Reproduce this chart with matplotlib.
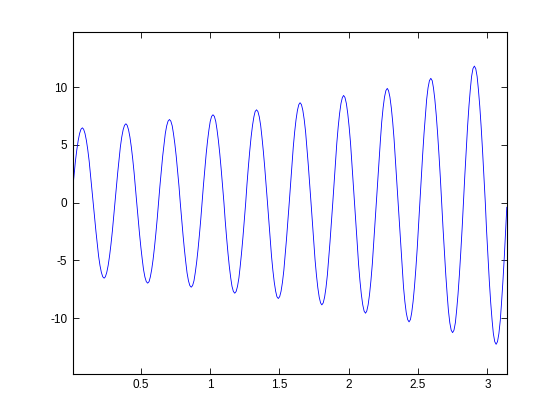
"""Growing sinusoid, redrawn in the look of a default MATLAB figure."""

import matplotlib
matplotlib.use("Agg")
import matplotlib.pyplot as plt

# curve samples, one half-wave per line pair
X = [
    0.010, 0.020, 0.029, 0.039, 0.049, 0.059, 0.069, 0.079,
    0.088, 0.098, 0.108, 0.118, 0.128, 0.137, 0.147, 0.157,
    0.167, 0.177, 0.187, 0.196, 0.206, 0.216, 0.226, 0.236,
    0.245, 0.255, 0.265, 0.275, 0.285, 0.295, 0.304, 0.314,
    0.324, 0.334, 0.344, 0.353, 0.363, 0.373, 0.383, 0.393,
    0.402, 0.412, 0.422, 0.432, 0.442, 0.452, 0.461, 0.471,
    0.481, 0.491, 0.501, 0.511, 0.520, 0.530, 0.540, 0.550,
    0.560, 0.569, 0.579, 0.589, 0.599, 0.609, 0.619, 0.628,
    0.638, 0.648, 0.658, 0.668, 0.677, 0.687, 0.697, 0.707,
    0.717, 0.727, 0.736, 0.746, 0.756, 0.766, 0.776, 0.785,
    0.795, 0.805, 0.815, 0.825, 0.834, 0.844, 0.854, 0.864,
    0.874, 0.884, 0.893, 0.903, 0.913, 0.923, 0.933, 0.942,
    0.952, 0.962, 0.972, 0.982, 0.992, 1.001, 1.011, 1.021,
    1.031, 1.041, 1.050, 1.060, 1.070, 1.080, 1.090, 1.100,
    1.109, 1.119, 1.129, 1.139, 1.149, 1.158, 1.168, 1.178,
    1.188, 1.198, 1.208, 1.217, 1.227, 1.237, 1.247, 1.257,
    1.266, 1.276, 1.286, 1.296, 1.306, 1.316, 1.325, 1.335,
    1.345, 1.355, 1.365, 1.374, 1.384, 1.394, 1.404, 1.414,
    1.424, 1.433, 1.443, 1.453, 1.463, 1.473, 1.482, 1.492,
    1.502, 1.512, 1.522, 1.532, 1.541, 1.551, 1.561, 1.571,
    1.581, 1.590, 1.600, 1.610, 1.620, 1.630, 1.640, 1.649,
    1.659, 1.669, 1.679, 1.689, 1.698, 1.708, 1.718, 1.728,
    1.738, 1.748, 1.757, 1.767, 1.777, 1.787, 1.797, 1.806,
    1.816, 1.826, 1.836, 1.846, 1.855, 1.865, 1.875, 1.885,
    1.895, 1.905, 1.914, 1.924, 1.934, 1.944, 1.954, 1.963,
    1.973, 1.983, 1.993, 2.003, 2.013, 2.022, 2.032, 2.042,
    2.052, 2.062, 2.071, 2.081, 2.091, 2.101, 2.111, 2.121,
    2.130, 2.140, 2.150, 2.160, 2.170, 2.179, 2.189, 2.199,
    2.209, 2.219, 2.229, 2.238, 2.248, 2.258, 2.268, 2.278,
    2.287, 2.297, 2.307, 2.317, 2.327, 2.336, 2.346, 2.356,
    2.366, 2.376, 2.386, 2.395, 2.405, 2.415, 2.425, 2.435,
    2.445, 2.454, 2.464, 2.474, 2.484, 2.494, 2.503, 2.513,
    2.523, 2.533, 2.543, 2.553, 2.562, 2.572, 2.582, 2.592,
    2.602, 2.611, 2.621, 2.631, 2.641, 2.651, 2.661, 2.670,
    2.680, 2.690, 2.700, 2.710, 2.719, 2.729, 2.739, 2.749,
    2.759, 2.769, 2.778, 2.788, 2.798, 2.808, 2.818, 2.827,
    2.837, 2.847, 2.857, 2.867, 2.877, 2.886, 2.896, 2.906,
    2.916, 2.926, 2.935, 2.945, 2.955, 2.965, 2.975, 2.985,
    2.994, 3.004, 3.014, 3.024, 3.034, 3.043, 3.053, 3.063,
    3.073, 3.083, 3.093, 3.102, 3.112, 3.122, 3.132, 3.140,
]

Y = [
    1.26, 2.48, 3.60, 4.57, 5.38, 5.98, 6.35, 6.47,
    6.35, 5.98, 5.38, 4.57, 3.60, 2.48, 1.26, 0.0,
    -1.27, -2.50, -3.63, -4.62, -5.43, -6.03, -6.41, -6.53,
    -6.41, -6.03, -5.43, -4.62, -3.63, -2.50, -1.27, 0.0,
    1.33, 2.61, 3.79, 4.82, 5.67, 6.30, 6.69, 6.82,
    6.69, 6.30, 5.67, 4.82, 3.79, 2.61, 1.33, 0.0,
    -1.36, -2.67, -3.87, -4.92, -5.78, -6.43, -6.83, -6.96,
    -6.83, -6.43, -5.78, -4.92, -3.87, -2.67, -1.36, 0.0,
    1.40, 2.75, 4.00, 5.08, 5.97, 6.64, 7.05, 7.19,
    7.05, 6.64, 5.97, 5.08, 4.00, 2.75, 1.40, 0.0,
    -1.43, -2.80, -4.06, -5.17, -6.07, -6.75, -7.17, -7.31,
    -7.17, -6.75, -6.07, -5.17, -4.06, -2.80, -1.43, 0.0,
    1.48, 2.91, 4.23, 5.37, 6.32, 7.02, 7.46, 7.60,
    7.46, 7.02, 6.32, 5.37, 4.23, 2.91, 1.48, 0.0,
    -1.53, -3.00, -4.35, -5.54, -6.51, -7.23, -7.68, -7.83,
    -7.68, -7.23, -6.51, -5.54, -4.35, -3.00, -1.53, 0.0,
    1.57, 3.08, 4.46, 5.68, 6.67, 7.42, 7.88, 8.03,
    7.88, 7.42, 6.67, 5.68, 4.46, 3.08, 1.57, 0.0,
    -1.62, -3.18, -4.61, -5.86, -6.89, -7.66, -8.13, -8.29,
    -8.13, -7.66, -6.89, -5.86, -4.61, -3.18, -1.62, 0.0,
    1.68, 3.31, 4.80, 6.11, 7.18, 7.98, 8.48, 8.64,
    8.48, 7.98, 7.18, 6.11, 4.80, 3.31, 1.68, 0.0,
    -1.72, -3.39, -4.92, -6.25, -7.35, -8.17, -8.67, -8.84,
    -8.67, -8.17, -7.35, -6.25, -4.92, -3.39, -1.72, 0.0,
    1.81, 3.55, 5.15, 6.55, 7.70, 8.57, 9.09, 9.27,
    9.09, 8.57, 7.70, 6.55, 5.15, 3.55, 1.81, 0.0,
    -1.86, -3.66, -5.32, -6.76, -7.94, -8.83, -9.38, -9.56,
    -9.38, -8.83, -7.94, -6.76, -5.32, -3.66, -1.86, 0.0,
    1.93, 3.78, 5.49, 6.99, 8.21, 9.13, 9.69, 9.88,
    9.69, 9.13, 8.21, 6.99, 5.49, 3.78, 1.93, 0.0,
    -2.01, -3.95, -5.73, -7.29, -8.57, -9.53, -10.11, -10.31,
    -10.11, -9.53, -8.57, -7.29, -5.73, -3.95, -2.01, 0.0,
    2.10, 4.12, 5.98, 7.60, 8.93, 9.93, 10.55, 10.75,
    10.55, 9.93, 8.93, 7.60, 5.98, 4.12, 2.10, 0.0,
    -2.19, -4.30, -6.25, -7.95, -9.34, -10.39, -11.03, -11.24,
    -11.03, -10.39, -9.34, -7.95, -6.25, -4.30, -2.19, 0.0,
    2.30, 4.52, 6.57, 8.35, 9.81, 10.91, 11.59, 11.81,
    11.59, 10.91, 9.81, 8.35, 6.57, 4.52, 2.30, 0.0,
    -2.39, -4.69, -6.81, -8.66, -10.18, -11.32, -12.02, -12.25,
    -12.02, -11.32, -10.18, -8.66, -6.81, -4.69, -2.39, -0.40,
]

XTICKS = [0.5, 1, 1.5, 2, 2.5, 3]
XTICK_LABELS = ["0.5", "1", "1.5", "2", "2.5", "3"]
YTICKS = [-10, -5, 0, 5, 10]
YTICK_LABELS = ["-10", "-5", "0", "5", "10"]


def main():
    plt.rcParams["font.family"] = ["Liberation Sans", "DejaVu Sans"]

    fig = plt.figure(figsize=(5.6, 4.2), dpi=100, facecolor="white")
    # default MATLAB axes position
    ax = fig.add_axes([0.13, 0.11, 0.775, 0.815])

    ax.plot(X, Y, color=(0, 0, 1), linewidth=0.6)

    ax.set_xlim(0.01, 3.14)
    ax.set_ylim(-14.8, 14.8)
    ax.set_xticks(XTICKS)
    ax.set_xticklabels(XTICK_LABELS)
    ax.set_yticks(YTICKS)
    ax.set_yticklabels(YTICK_LABELS)

    ax.tick_params(direction="in", length=4, width=0.6, labelsize=8.5,
                   top=True, right=True, pad=4)
    for sp in ax.spines.values():
        sp.set_linewidth(0.8)
        sp.set_color("black")

    fig.savefig("out.png", dpi=100, facecolor="white")


if __name__ == "__main__":
    main()
